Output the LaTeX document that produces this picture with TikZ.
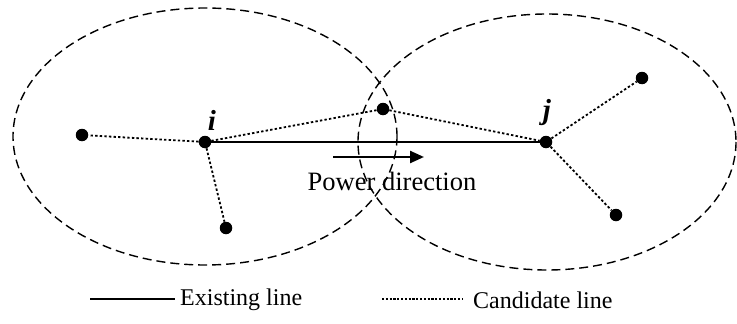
\documentclass[tikz,border=0pt]{standalone}
\usepackage{fontspec}
\setmainfont{Liberation Serif}
\usetikzlibrary{arrows.meta}
\begin{document}
\begin{tikzpicture}[x=1pt,y=-1pt,
  bus/.style={circle,fill=black,inner sep=0pt,minimum size=12.5pt},
  zone/.style={draw,line width=1.4pt,dash pattern=on 9pt off 5pt},
  cand/.style={line width=1.8pt,dash pattern=on 2.4pt off 2.2pt},
  exist/.style={line width=2.4pt},
  lbl/.style={font=\fontsize{24}{28}\selectfont,inner sep=0pt},
  big/.style={font=\fontsize{26.5}{30}\selectfont,inner sep=0pt},
  nm/.style={font=\fontsize{29}{32}\selectfont\bfseries\itshape,inner sep=0pt}]
\useasboundingbox (0,0) rectangle (737,324);
\draw[zone] (205,136.5) ellipse [x radius=192, y radius=128.5];
\draw[zone] (547,142) ellipse [x radius=189, y radius=128];
\node[bus] (i) at (205,142) {};
\node[bus] (a) at (82,135) {};
\node[bus] (b) at (226,228) {};
\node[bus] (j) at (546,142) {};
\node[bus] (m) at (383,109) {};
\node[bus] (c) at (642,78) {};
\node[bus] (d) at (616,215) {};
\draw[exist] (i) -- (j);
\draw[cand] (i) -- (a);
\draw[cand] (i) -- (b);
\draw[cand] (i) -- (m);
\draw[cand] (m) -- (j);
\draw[cand] (j) -- (c);
\draw[cand] (j) -- (d);
\node[nm] (li) at (212,120) {i};
\node[nm] (lj) at (547,113) {j};
\coordinate (p1) at (333,157);
\coordinate (p2) at (424,157);
\draw[line width=2.4pt,-{Triangle[length=14pt,width=12pt]}] (p1) -- (p2);
\node[big] (pd) at (392,181) {Power direction};
\coordinate (e1) at (90,299);
\coordinate (e2) at (175,299);
\draw[exist] (e1) -- (e2);
\node[lbl,anchor=west] (le) at (180,300) {Existing line};
\coordinate (c1) at (382,299);
\coordinate (c2) at (463,299);
\draw[line width=1.4pt,dash pattern=on 2.2pt off 1.6pt] (c1) -- (c2);
\node[lbl,anchor=west] (lc) at (473,300) {Candidate line};
\end{tikzpicture}
\end{document}
